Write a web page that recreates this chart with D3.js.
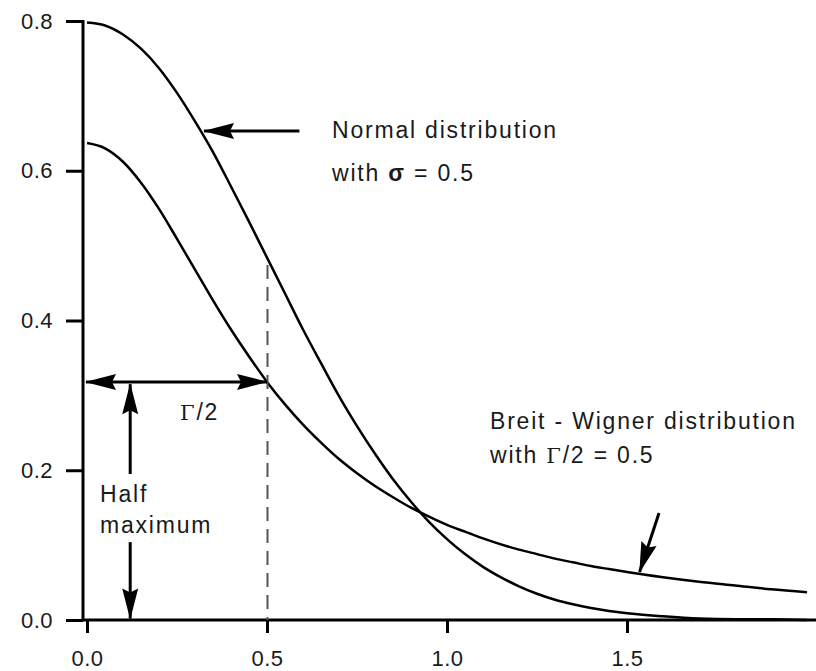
<!DOCTYPE html>
<html>
<head>
<script src="https://cdn.jsdelivr.net/npm/d3@7"></script>
<style>
	body { margin: 0; background: #fff; }
	svg { display: block; }
	text { font-family: "Liberation Sans", Arial, sans-serif; fill: #1a1a1a; }
</style>
</head>
<body>
<div id="container"></div>
<script>
	const width = 816, height = 671;

	// values, x in steps
	const xs = [0, 0.05, 0.1, 0.15, 0.2, 0.25, 0.3, 0.35, 0.4, 0.45, 0.5, 0.55, 0.6, 0.65, 0.7, 0.75, 0.8, 0.85, 0.9, 0.95, 1.0,
		1.05, 1.1, 1.15, 1.2, 1.25, 1.3, 1.35, 1.4, 1.45, 1.5, 1.6, 1.7, 1.8, 1.9, 2.0];
	const normal = [0.798, 0.794, 0.782, 0.763, 0.737, 0.704, 0.666, 0.625, 0.579, 0.532, 0.484, 0.436, 0.388, 0.343, 0.299, 0.259, 0.222, 0.188, 0.158, 0.131, 0.108,
		0.088, 0.071, 0.057, 0.045, 0.035, 0.027, 0.021, 0.016, 0.012, 0.009, 0.005, 0.002, 0.001, 0.001, 0.000];
	const breitWigner = [0.637, 0.630, 0.612, 0.584, 0.549, 0.509, 0.468, 0.427, 0.388, 0.352, 0.318, 0.288, 0.261, 0.237, 0.215, 0.196, 0.179, 0.164, 0.150, 0.138, 0.127,
		0.118, 0.109, 0.101, 0.094, 0.088, 0.082, 0.077, 0.072, 0.068, 0.064, 0.057, 0.051, 0.046, 0.041, 0.037];

	const xTicks = [0, 0.5, 1.0, 1.5];
	const yTicks = [0, 0.2, 0.4, 0.6, 0.8];

	const halfMax = 0.318;

	var svg = d3.select("#container").append("svg").attr("width", width).attr("height", height);

	var x = d3.scaleLinear().domain([0, 2]).range([87, 807]);
	var y = d3.scaleLinear().domain([0, 0.8]).range([620, 21]);

	/* arrow heads */
	var defs = svg.append("defs");
	function head(id, d, vb) {
		defs.append("marker").attr("id", id)
			.attr("markerUnits", "userSpaceOnUse")
			.attr("viewBox", vb)
			.attr("markerWidth", 34).attr("markerHeight", 18)
			.attr("refX", 0).attr("refY", 0)
			.attr("orient", "auto")
			.append("path").attr("d", d).attr("fill", "#000");
	}
	head("head", "M1,0 L-30,-8 L-26,0 L-30,8 Z", "-32 -9 34 18");
	head("headStart", "M-1,0 L30,-8 L26,0 L30,8 Z", "-2 -9 34 18");

	/* axes */
	var xAxis = d3.axisBottom(x).tickValues(xTicks).tickSize(13).tickPadding(17).tickFormat(d3.format(".1f"));
	var gx = svg.append("g").attr("transform", "translate(0," + y(0) + ")").call(xAxis);
	gx.select(".domain").remove();
	gx.append("line").attr("x1", 82).attr("x2", width).attr("y1", 0).attr("y2", 0).attr("stroke", "#000").attr("stroke-width", 3);

	var yAxis = d3.axisLeft(y).tickValues(yTicks).tickSize(17).tickPadding(13).tickFormat(d3.format(".1f"));
	var gy = svg.append("g").attr("transform", "translate(83,0)").call(yAxis);
	gy.select(".domain").remove();
	gy.append("line").attr("x1", 0).attr("x2", 0).attr("y1", y(0.8) - 1).attr("y2", y(0) + 1).attr("stroke", "#000").attr("stroke-width", 3);

	svg.selectAll(".tick line").attr("stroke", "#000").attr("stroke-width", 3);
	svg.selectAll(".tick text").attr("font-size", 22).attr("fill", "#1a1a1a")
		.style("font-family", "'Liberation Sans', Arial, sans-serif").style("letter-spacing", "0.5px");

	/* curves */
	var line = d3.line().x(function(d){ return x(d[0]); }).y(function(d){ return y(d[1]); }).curve(d3.curveMonotoneX);

	svg.append("path").datum(xs.map(function(v, i){ return [v, normal[i]]; }))
		.attr("d", line).attr("fill", "none").attr("stroke", "#000").attr("stroke-width", 2.5);
	svg.append("path").datum(xs.map(function(v, i){ return [v, breitWigner[i]]; }))
		.attr("d", line).attr("fill", "none").attr("stroke", "#000").attr("stroke-width", 2.5);

	/* dashed guide at x = 0.5 */
	svg.append("line").attr("x1", Math.round(x(0.5)) + 0.5).attr("x2", Math.round(x(0.5)) + 0.5).attr("y1", y(0.474)).attr("y2", y(0))
		.attr("stroke", "#555").attr("stroke-width", 2).attr("stroke-dasharray", "14,8");

	/* arrows */
	function arrow(x1, y1, x2, y2) {
		return svg.append("line").attr("x1", x(x1)).attr("y1", y(y1)).attr("x2", x(x2)).attr("y2", y(y2))
			.attr("stroke", "#000").attr("stroke-width", 3).attr("marker-end", "url(#head)");
	}
	// normal label arrow
	arrow(0.59, 0.653, 0.325, 0.653);
	// Γ/2 width arrow
	arrow(0, halfMax, 0.5, halfMax).attr("x1", 86).attr("marker-start", "url(#headStart)");
	// half maximum arrows
	arrow(0.12, 0.195, 0.12, halfMax - 0.003);
	arrow(0.12, 0.104, 0.12, 0.002);
	// breit-wigner arrow
	arrow(1.589, 0.143, 1.535, 0.064);

	/* labels */
	function label(tx, ty, parts) {
		var t = svg.append("text").attr("x", tx).attr("y", ty).attr("font-size", 23).style("letter-spacing", "1.8px");
		parts.forEach(function(p){
			var s = t.append("tspan").text(p.t);
			if (p.serif) s.style("font-family", "'DejaVu Serif', serif").attr("font-size", 21);
			if (p.bold) s.attr("font-weight", "bold");
		});
		return t;
	}

	label(332, 138, [{t: "Normal distribution"}]);
	label(332, 181, [{t: "with "}, {t: "σ", bold: true}, {t: " = 0.5"}]);
	label(490, 429, [{t: "Breit - Wigner distribution"}]);
	label(490, 463, [{t: "with "}, {t: "Γ", serif: true}, {t: "/2 = 0.5"}]);
	label(180, 420, [{t: "Γ", serif: true}, {t: "/2"}]);
	label(100, 502, [{t: "Half"}]);
	label(100, 533, [{t: "maximum"}]);
</script>
</body>
</html>
